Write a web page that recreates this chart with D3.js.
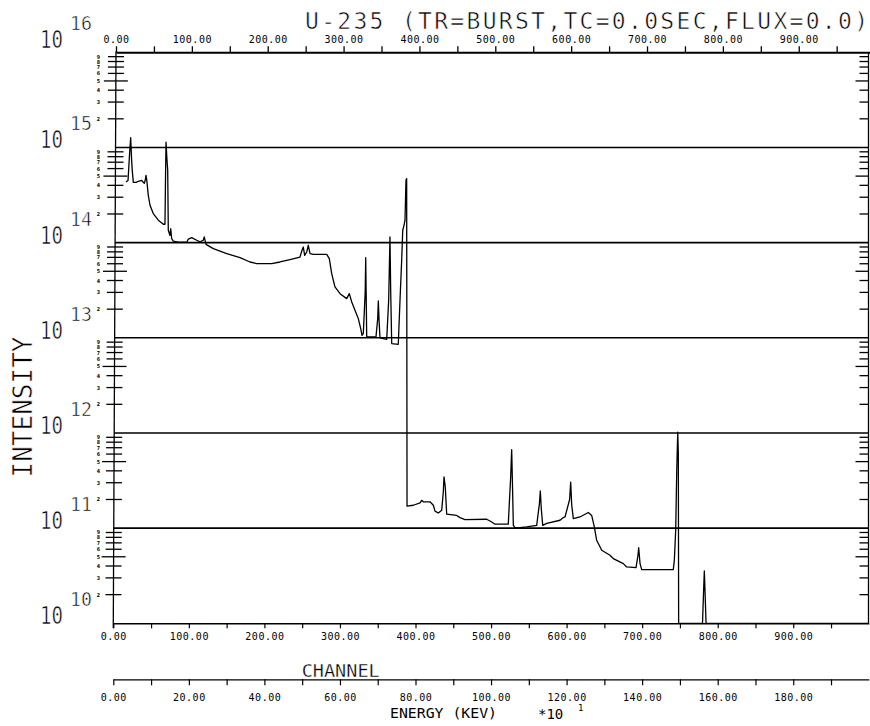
<!DOCTYPE html>
<html>
<head>
<meta charset="utf-8">
<script src="https://cdn.jsdelivr.net/npm/d3@7"></script>
<style>
  html, body { margin: 0; padding: 0; background: #fff; }
  svg { display: block; }
  text { font-family: "DejaVu Sans Mono", monospace; fill: #000; }
  .pen { stroke: #fff; stroke-width: 0.6px; }
  .pen-s { stroke: #fff; stroke-width: 0.3px; }
</style>
</head>
<body>
<script>
// Gamma spectrum, U-235 burst: channel number vs. intensity (log scale).
// Intensities below 1e10 lie under the plot floor and are pinned to the bottom axis.
const channels = [
  16.8, 19.5, 21.5, 23.0, 24.2, 25.1, 26.5, 30.0, 33.1, 37.6, 41.0, 42.5, 43.3, 44.2, 45.0,
  46.3, 48.6, 52.9, 59.6, 66.2, 68.4, 69.2, 69.8, 70.8, 72.0, 72.8, 75.0, 76.0, 77.3, 79.4,
  86.0, 97.2, 99.3, 103.8, 110.4, 114.8, 119.1, 120.4, 122.7, 132.4, 150.1, 167.7, 180.9, 189.8,
  209.7, 220.6, 233.9, 247.1, 249.8, 251.5, 253.3, 256.0, 258.1, 260.4, 264.7, 282.5, 285.9,
  289.1, 293.4, 300.1, 308.9, 312.4, 315.6, 319.9, 324.3, 327.5, 329.2, 330.9, 333.4, 334.1,
  334.8, 335.4, 347.7, 350.0, 350.8, 351.8, 353.0, 361.9, 364.5, 366.2, 367.2, 368.5, 377.2,
  379.5, 381.7, 383.1, 384.8, 386.1, 387.4, 388.3, 388.8, 397.1, 406.0, 408.2, 410.3, 419.2,
  423.6, 425.8, 430.2, 434.7, 436.8, 437.7, 439.4, 441.3, 454.5, 458.9, 465.5, 494.2, 500.9,
  505.2, 522.8, 526.0, 527.3, 528.3, 529.5, 531.7, 538.3, 547.2, 560.4, 564.0, 565.2, 566.5,
  568.4, 573.7, 591.3, 595.6, 597.9, 604.0, 605.4, 606.8, 608.9, 617.7, 628.7, 633.2, 636.7,
  639.8, 646.5, 657.4, 661.8, 675.1, 679.5, 691.9, 694.5, 695.4, 697.2, 699.4, 741.2, 742.6,
  744.4, 745.8, 747.1, 747.9, 748.3, 779.9, 781.5, 782.3, 783.2, 784.6, 1000
];
const intensity = [
  4.34e14, 4.5e14, 8.5e14, 1.27e15, 7.5e14, 5.75e14, 4.3e14, 4.3e14, 4.4e14, 4.5e14, 4.2e14, 4.6e14, 5.1e14, 4.6e14, 4.0e14,
  3.14e14, 2.47e14, 2.02e14, 1.72e14, 1.56e14, 1.56e14, 5.5e14, 1.14e15, 8.0e14, 5.75e14, 1.35e14, 1.19e14, 1.40e14, 1.10e14, 1.04e14,
  1.01e14, 1.01e14, 1.09e14, 1.13e14, 1.06e14, 1.02e14, 1.06e14, 1.15e14, 9.6e13, 8.65e13, 7.67e13, 6.96e13, 6.26e13, 6.03e13,
  6.03e13, 6.26e13, 6.64e13, 7.06e13, 8.31e13, 9.0e13, 7.36e13, 7.97e13, 9.38e13, 7.67e13, 7.54e13, 7.54e13, 6.8e13,
  4.73e13, 3.42e13, 2.91e13, 2.58e13, 2.91e13, 2.38e13, 1.95e13, 1.59e13, 1.25e13, 1.06e13, 1.11e13, 3.0e13, 6.96e13,
  2.5e13, 1.02e13, 1.02e13, 1.6e13, 2.44e13, 1.5e13, 1.0e13, 9.64e12, 2.5e13, 1.15e14, 3.0e13, 8.7e12, 8.55e12,
  2.48e13, 6.52e13, 1.35e14, 1.52e14, 1.72e14, 4.52e14, 4.71e14, 1.70e11, 1.74e11, 1.84e11, 1.96e11, 1.89e11, 1.89e11,
  1.74e11, 1.51e11, 1.44e11, 1.54e11, 2.4e11, 3.45e11, 2.71e11, 1.40e11, 1.36e11, 1.29e11, 1.23e11, 1.24e11, 1.16e11,
  1.10e11, 1.10e11, 3.5e11, 6.69e11, 3.0e11, 1.07e11, 1.01e11, 1.01e11, 1.03e11, 1.07e11, 1.8e11, 2.46e11, 1.6e11,
  1.07e11, 1.12e11, 1.21e11, 1.29e11, 1.31e11, 2.0e11, 3.05e11, 1.74e11, 1.26e11, 1.31e11, 1.46e11, 1.36e11, 1.03e11,
  7.45e10, 5.85e10, 5.19e10, 4.79e10, 4.24e10, 3.91e10, 3.85e10, 5.2e10, 6.25e10, 4.24e10, 3.67e10, 3.67e10, 4.59e10,
  9.5e10, 4.06e11, 1.02e12, 6.11e11, 1e9, 1e9, 2.4e10, 3.55e10, 2.2e10, 1e9, 1e9
];

// Axis ticks and labels
const channelTicks = d3.range(0, 1000, 50);
const channelLabels = ["0.00", "100.00", "200.00", "300.00", "400.00", "500.00", "600.00", "700.00", "800.00", "900.00"];
const energyTicks = d3.range(0, 200, 10);
const energyLabels = ["0.00", "20.00", "40.00", "60.00", "80.00", "100.00", "120.00", "140.00", "160.00", "180.00"];
const decadeExponents = [10, 11, 12, 13, 14, 15, 16];

const titleText = "U-235 (TR=BURST,TC=0.0SEC,FLUX=0.0)";
const yTitle = "INTENSITY";
const xTitle = "CHANNEL";
const energyTitle = "ENERGY (KEV)";

const W = 870, H = 726;
const svg = d3.select("body").append("svg").attr("width", W).attr("height", H);

const plotTop = 52.3, plotBottom = 623.3, plotRight = 868.5;
const x = d3.scaleLinear().domain([0, 1000]).range([113.3, 868.8]);
const xTop = d3.scaleLinear().domain([0, 1000]).range([116, 874.6]);
const xEnergy = d3.scaleLinear().domain([0, 200]).range([113.3, 868.8]);
const y = d3.scaleLog().domain([1e10, 1e16]).range([plotBottom, plotTop]).clamp(true);

// left axis leans slightly, as drawn by the pen plotter
const axisX = py => 116 - (py - plotTop) / (plotBottom - plotTop) * 2.7;

// decade grid lines
const decadeVals = decadeExponents.map(e => Math.pow(10, e));
svg.append("g").selectAll("line")
  .data(decadeVals.filter(v => v > 1e10 && v < 1e16))
  .join("line")
  .attr("x1", d => axisX(y(d))).attr("x2", plotRight)
  .attr("y1", d => y(d)).attr("y2", d => y(d))
  .attr("stroke", "#000").attr("stroke-width", 1.6);

// left axis + minor ticks (2..9 of each decade)
svg.append("line")
  .attr("x1", axisX(plotTop)).attr("y1", plotTop - 1)
  .attr("x2", axisX(plotBottom + 5)).attr("y2", plotBottom + 5)
  .attr("stroke", "#000").attr("stroke-width", 1.3);

const mant = v => Math.round(v / Math.pow(10, Math.floor(Math.log10(v) + 1e-9)));
const minorTicks = y.ticks().filter(v => mant(v) !== 1);

const lt = svg.append("g");
lt.selectAll("line")
  .data(minorTicks)
  .join("line")
  .attr("x1", d => axisX(y(d)) - (mant(d) === 5 ? 12 : 8))
  .attr("x2", d => axisX(y(d)) + (mant(d) === 5 ? 12 : 8))
  .attr("y1", d => y(d)).attr("y2", d => y(d))
  .attr("stroke", "#000").attr("stroke-width", 1.3);
lt.selectAll("text")
  .data(minorTicks)
  .join("text")
  .attr("x", 98.5).attr("y", d => y(d) + 2)
  .attr("text-anchor", "middle")
  .attr("font-size", 5.5).attr("font-weight", "bold")
  .text(d => mant(d));

// right frame + inward ticks
svg.append("line")
  .attr("x1", plotRight).attr("x2", plotRight).attr("y1", plotTop).attr("y2", plotBottom)
  .attr("stroke", "#000").attr("stroke-width", 1.3);
svg.append("g").selectAll("line")
  .data(minorTicks)
  .join("line")
  .attr("x1", d => plotRight - (mant(d) === 5 ? 13 : 9)).attr("x2", plotRight)
  .attr("y1", d => y(d)).attr("y2", d => y(d))
  .attr("stroke", "#000").attr("stroke-width", 1.3);

// decade labels 10^n; the topmost sits a little higher, clear of the top axis
const labelBase = e => y(Math.pow(10, e)) + (e === 16 ? -4 : 1);
const yl = svg.append("g").selectAll("g").data(decadeExponents).join("g");
yl.append("text")
  .attr("class", "pen")
  .attr("x", 40).attr("y", d => labelBase(d))
  .attr("font-size", 24).attr("textLength", 23).attr("lengthAdjust", "spacingAndGlyphs")
  .text("10");
yl.append("text")
  .attr("class", "pen")
  .attr("x", 70).attr("y", d => labelBase(d) - 18)
  .attr("font-size", 20).attr("textLength", 22).attr("lengthAdjust", "spacingAndGlyphs")
  .text(d => d);

// top channel axis
const fmtCh = d => (d % 100 === 0 ? channelLabels[d / 100] : "");
const gTop = svg.append("g").attr("transform", `translate(0,${plotTop})`)
  .call(d3.axisTop(xTop).tickValues(channelTicks).tickSize(6).tickSizeOuter(0).tickPadding(3).tickFormat(fmtCh));
gTop.select(".domain").attr("stroke", "#000").attr("stroke-width", 2);
gTop.selectAll(".tick line").attr("stroke", "#000").attr("stroke-width", 1.3);
gTop.selectAll(".tick text").attr("font-family", "DejaVu Sans Mono").attr("font-size", 10)
  .attr("letter-spacing", 0.5).attr("fill", "#000");

// bottom channel axis
const gBot = svg.append("g").attr("transform", `translate(0,${plotBottom})`)
  .call(d3.axisBottom(x).tickValues(channelTicks).tickSize(5).tickSizeOuter(0).tickFormat(fmtCh));
gBot.select(".domain").attr("stroke", "#000").attr("stroke-width", 1.6);
gBot.selectAll(".tick line").attr("stroke", "#000").attr("stroke-width", 1.2);
gBot.selectAll(".tick text").attr("font-family", "DejaVu Sans Mono").attr("font-size", 10)
  .attr("letter-spacing", 0.5).attr("fill", "#222").attr("y", 17).attr("dy", 0);

// energy axis
const energyY = 679.3;
const fmtE = d => (d % 20 === 0 ? energyLabels[d / 20] : "");
const gE = svg.append("g").attr("transform", `translate(0,${energyY})`)
  .call(d3.axisBottom(xEnergy).tickValues(energyTicks).tickSize(6).tickSizeOuter(0).tickFormat(fmtE));
gE.select(".domain").attr("stroke", "#000").attr("stroke-width", 1.2);
gE.selectAll(".tick line").attr("stroke", "#000").attr("stroke-width", 1.2);
gE.selectAll(".tick text").attr("font-family", "DejaVu Sans Mono").attr("font-size", 10)
  .attr("letter-spacing", 0.5).attr("fill", "#222").attr("y", 21.5).attr("dy", 0);

// spectrum trace
const pts = channels.map((c, i) => [c, intensity[i]]);
svg.append("path")
  .datum(pts)
  .attr("fill", "none").attr("stroke", "#000").attr("stroke-width", 1.3)
  .attr("stroke-linejoin", "round")
  .attr("d", d3.line().x(d => x(d[0])).y(d => y(d[1])));

// titles
svg.append("text").attr("class", "pen")
  .attr("x", 305).attr("y", 28.5)
  .attr("font-size", 23).attr("textLength", 563).attr("lengthAdjust", "spacing")
  .text(titleText);

svg.append("text").attr("class", "pen")
  .attr("transform", "translate(31.5,407) rotate(-90)")
  .attr("text-anchor", "middle")
  .attr("font-size", 27).attr("textLength", 141).attr("lengthAdjust", "spacingAndGlyphs")
  .text(yTitle);

svg.append("text").attr("class", "pen-s")
  .attr("x", 301.7).attr("y", 677)
  .attr("font-size", 17).attr("textLength", 78).attr("lengthAdjust", "spacingAndGlyphs")
  .text(xTitle);

svg.append("text")
  .attr("x", 390).attr("y", 718)
  .attr("font-size", 13.5).attr("textLength", 107).attr("lengthAdjust", "spacingAndGlyphs")
  .text(energyTitle);

svg.append("text")
  .attr("x", 538).attr("y", 719).attr("font-size", 14)
  .text("*10");
svg.append("text")
  .attr("x", 578).attr("y", 711).attr("font-size", 9)
  .text("1");
</script>
</body>
</html>
